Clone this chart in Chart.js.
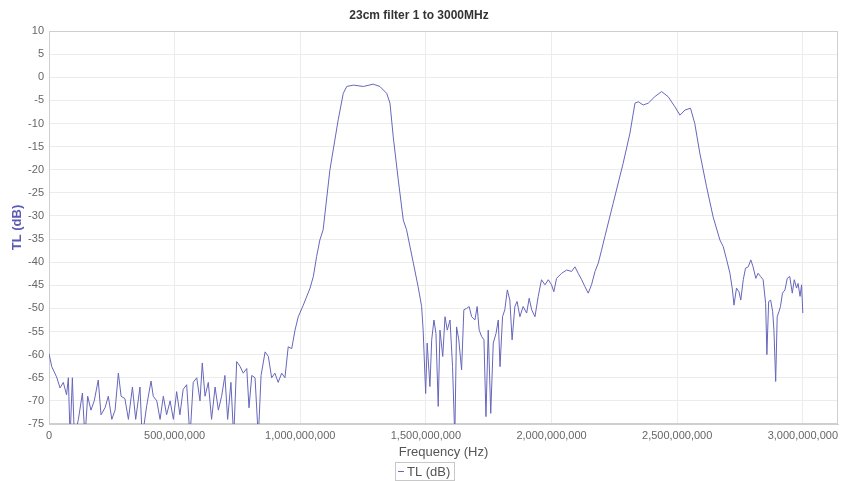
<!DOCTYPE html>
<html>
<head>
<meta charset="utf-8">
<script src="https://cdn.jsdelivr.net/npm/chart.js@4.4.1/dist/chart.umd.min.js"></script>
<style>
    html, body { margin: 0; padding: 0; background: #fff; }
    #wrap { width: 849px; height: 481px; }
</style>
</head>
<body>
<div id="wrap"><canvas id="chart"></canvas></div>
<script>
// Frequency in MHz (axis shows Hz), transmission loss in dB
const freqMHz = [
    0, 11, 30, 44, 57, 70, 77, 84, 93, 101, 117, 133, 143, 154, 167, 180, 196, 207, 223, 236,
    250, 263, 276, 287, 302, 316, 332, 345, 362, 371, 389, 406, 415, 429, 442, 455, 468, 482, 495, 508,
    521, 534, 548, 561, 574, 588, 601, 610, 621, 634, 647, 661, 674, 687, 700, 711, 724, 735, 747, 760,
    773, 787, 796, 807, 820, 833, 844, 860, 873, 886, 899, 912, 926, 939, 952, 966, 979, 992, 1012, 1039,
    1052, 1065, 1078, 1091, 1118, 1151, 1171, 1185, 1211, 1251, 1290, 1317, 1344, 1357, 1370, 1390, 1410, 1423, 1450, 1469,
    1483, 1489, 1499, 1505, 1516, 1523, 1532, 1540, 1549, 1556, 1567, 1576, 1585, 1596, 1606, 1615, 1622, 1631, 1642, 1651,
    1662, 1672, 1682, 1695, 1704, 1712, 1722, 1731, 1739, 1748, 1758, 1768, 1779, 1788, 1795, 1805, 1814, 1824, 1834, 1843,
    1854, 1863, 1874, 1887, 1901, 1911, 1921, 1934, 1947, 1960, 1974, 1987, 2000, 2009, 2020, 2040, 2060, 2080, 2093, 2106,
    2120, 2133, 2146, 2159, 2173, 2186, 2199, 2212, 2245, 2285, 2312, 2332, 2345, 2365, 2385, 2411, 2438, 2464, 2491, 2511,
    2531, 2553, 2570, 2590, 2617, 2643, 2670, 2683, 2697, 2710, 2720, 2726, 2736, 2746, 2753, 2763, 2772, 2783, 2793, 2802,
    2813, 2822, 2832, 2842, 2852, 2857, 2864, 2872, 2880, 2885, 2892, 2898, 2905, 2911, 2919, 2929, 2938, 2948, 2958, 2966,
    2975, 2981, 2989, 2995, 3000
];

const tlDb = [
    -59.8, -62.6, -64.8, -67.2, -66, -68.7, -65, -78, -65, -78, -74, -68.3, -78, -69, -72, -70, -65.5, -73, -71.5, -69,
    -74, -72, -64, -69, -69.5, -74, -67, -74, -67, -78, -71, -65.7, -69, -70, -74, -69, -73, -70, -74, -68,
    -73, -67.5, -66.5, -78, -66, -65, -70, -61.8, -69, -66, -74, -67, -72, -69, -64.5, -74, -66, -78, -61.5, -62.5,
    -64, -63, -71.5, -64.5, -65, -78, -64.5, -59.4, -60.4, -65, -64, -66, -64, -65, -58.3, -58.7, -54.7, -51.8, -49.3, -45.6,
    -43.1, -38.8, -35.2, -33, -20, -9.2, -3.5, -2.0, -1.7, -2.0, -1.5, -2.0, -3.5, -5.6, -12.9, -22.2, -30.9, -33, -40.2, -45.3,
    -49.6, -54.7, -68.4, -57.5, -66.9, -56.8, -52.5, -55.4, -71.2, -54.7, -60.4, -51.8, -54.7, -52.5, -62.6, -78, -54, -56.8, -63.3, -50.3,
    -50, -49.6, -51.8, -52.5, -49.6, -54.7, -56.1, -56.8, -73.4, -54.7, -72.7, -57.5, -55.4, -52.5, -62.6, -51.8, -50.3, -46, -48.2, -56.8,
    -49.6, -48.5, -51.8, -49.6, -51, -47.8, -50.3, -51.8, -47.4, -43.8, -44.9, -43.8, -44.9, -46.4, -43.5, -42.4, -41.7, -42, -41, -42.4,
    -43.8, -45.3, -46.7, -44.9, -42, -40.2, -37.4, -34.5, -27.3, -18.6, -12.1, -5.6, -5.3, -6, -5.6, -4.2, -3.1, -4.2, -6.4, -8.2,
    -7.1, -6.7, -10, -16.4, -23.7, -30.2, -35.2, -36.6, -39.5, -42.4, -46, -49.3, -45.6, -46.4, -48.2, -43.8, -41.3, -41, -39.5, -41,
    -43.5, -42.4, -43.1, -43.8, -48.9, -60, -48.5, -48.2, -50.7, -54.7, -65.8, -51.8, -50.7, -49.6, -46.7, -46, -43.5, -43.1, -46.7, -43.8,
    -45.6, -44.6, -47.4, -44.9, -51
];

// Axis ranges and tick values (x ticks in MHz, labelled in Hz)
const yTicks = { min: -75, max: 10, step: 5 };
const xRange = { min: 0, max: 3140 };
const xTickValues = [0, 500, 1000, 1500, 2000, 2500, 3000];

const lineColor = '#6666bb';
const fontFamily = '"Liberation Sans", Arial, sans-serif';

Chart.defaults.font.family = fontFamily;

// Light frame round the plot area
const plotFrame = {
    id: 'plotFrame',
    beforeDatasetsDraw(chart) {
        const { ctx, chartArea } = chart;
        ctx.save();
        ctx.strokeStyle = '#cfcfcf';
        ctx.lineWidth = 1;
        ctx.strokeRect(
            Math.round(chartArea.left) + 0.5,
            Math.round(chartArea.top) + 0.5,
            Math.round(chartArea.right - chartArea.left) - 1,
            Math.round(chartArea.bottom - chartArea.top) - 1
        );
        ctx.restore();
    }
};

// Boxed legend under the axis title
const boxedLegend = {
    id: 'boxedLegend',
    afterDraw(chart) {
        const { ctx } = chart;
        const ds = chart.data.datasets[0];
        ctx.save();
        ctx.font = '13px ' + fontFamily;
        const textW = ctx.measureText(ds.label).width;
        const w = Math.round(3 + 6 + 3 + textW + 4);
        const h = 18;
        const x = Math.round((chart.width - w) / 2);
        const y = 462;
        ctx.strokeStyle = '#c8c8c8';
        ctx.lineWidth = 1;
        ctx.strokeRect(x + 0.5, y + 0.5, w, h);
        ctx.strokeStyle = ds.borderColor;
        ctx.beginPath();
        ctx.moveTo(x + 3, y + h / 2 + 0.5);
        ctx.lineTo(x + 9, y + h / 2 + 0.5);
        ctx.stroke();
        ctx.fillStyle = '#555';
        ctx.textBaseline = 'middle';
        ctx.fillText(ds.label, x + 12, y + h / 2 + 1);
        ctx.restore();
    }
};

new Chart(document.getElementById('chart'), {
    type: 'line',
    data: {
        datasets: [{
            label: 'TL (dB)',
            data: freqMHz.map((f, i) => ({ x: f, y: tlDb[i] })),
            borderColor: lineColor,
            borderWidth: 1,
            pointRadius: 0,
            tension: 0
        }]
    },
    options: {
        responsive: true,
        maintainAspectRatio: false,
        animation: false,
        devicePixelRatio: 1,
        layout: {
            padding: { top: 0, right: 11, bottom: 19, left: 0 }
        },
        plugins: {
            legend: { display: false },
            tooltip: { enabled: false },
            title: {
                display: true,
                text: '23cm filter 1 to 3000MHz',
                color: '#333',
                font: { size: 12, weight: 'bold' },
                padding: { top: 8, bottom: 8.6 }
            }
        },
        scales: {
            x: {
                type: 'linear',
                min: xRange.min,
                max: xRange.max,
                afterBuildTicks(scale) {
                    scale.ticks = xTickValues.map(value => ({ value }));
                },
                afterFit(scale) {
                    scale.height = 38;
                },
                grid: { color: '#ececec', drawTicks: false },
                border: { color: '#cfcfcf' },
                ticks: {
                    autoSkip: false,
                    maxRotation: 0,
                    padding: 5,
                    color: '#666',
                    font: { size: 11 },
                    callback: value => (value * 1e6).toLocaleString('en-US')
                },
                title: {
                    display: true,
                    text: 'Frequency (Hz)',
                    color: '#555',
                    font: { size: 13 },
                    padding: { top: 0, bottom: 2 }
                }
            },
            y: {
                min: yTicks.min,
                max: yTicks.max,
                afterFit(scale) {
                    scale.width = 49;
                },
                grid: { color: '#ececec', drawTicks: false },
                border: { color: '#cfcfcf' },
                ticks: {
                    stepSize: yTicks.step,
                    padding: 5,
                    color: '#666',
                    font: { size: 11 }
                },
                title: {
                    display: true,
                    text: 'TL (dB)',
                    color: '#5b5bb5',
                    font: { size: 13, weight: 'bold' },
                    padding: { top: 10, bottom: 0 }
                }
            }
        }
    },
    plugins: [plotFrame, boxedLegend]
});
</script>
</body>
</html>
